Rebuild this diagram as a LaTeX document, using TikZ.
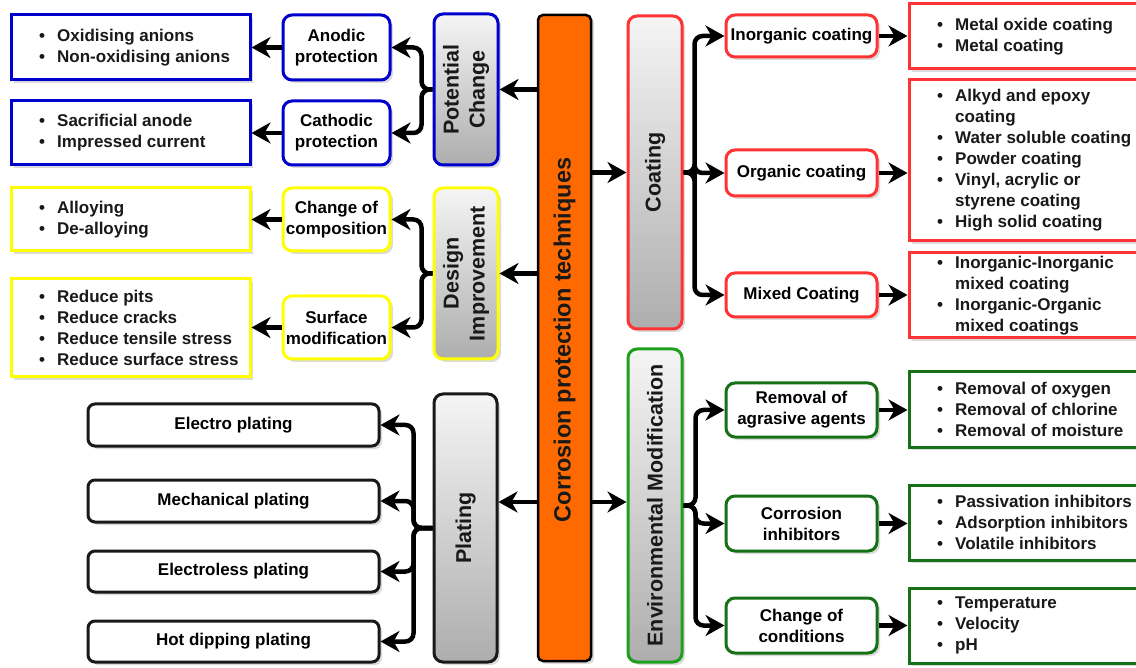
\documentclass[tikz,border=0pt]{standalone}
\usepackage{fontspec}
\setmainfont{Liberation Sans}
\usetikzlibrary{arrows.meta,shadows}

\definecolor{cpblue}{RGB}{0,0,204}
\definecolor{cpyellow}{RGB}{255,255,0}
\definecolor{cpred}{RGB}{255,51,51}
\definecolor{cpgreen}{RGB}{22,112,22}
\definecolor{cpgreenlt}{RGB}{30,160,30}
\definecolor{cporange}{RGB}{255,106,0}
\definecolor{cpink}{RGB}{25,25,25}

% text sizes
\newcommand\cpsmall{\fontsize{17pt}{21pt}\selectfont\bfseries}
\newcommand\cpcat{\fontsize{21.5pt}{26pt}\selectfont\bfseries}
\newcommand\cpmain{\fontsize{23.5pt}{28pt}\selectfont\bfseries}
% bullet list helpers
\newcommand\bul{\makebox[18pt][l]{\textbullet}}
\newcommand\indt{\hspace*{18pt}}

\tikzset{
  shd/.style={drop shadow={opacity=0.28, shadow xshift=3pt, shadow yshift=-3pt}},
  listbox/.style={draw=#1, line width=3pt, fill=white, shd, minimum width=236pt, inner sep=0pt},
  midbox/.style={draw=#1, line width=3pt, fill=white, rounded corners=9pt, shd,
    font=\cpsmall, align=center, inner sep=0pt, minimum width=107pt},
  rmidbox/.style={midbox=#1, minimum width=151pt},
  platebox/.style={draw=cpink, line width=3pt, fill=white, rounded corners=7pt, shd,
    font=\cpsmall, align=center, inner sep=0pt, minimum width=291pt},
  catbox/.style={draw=#1, line width=3pt, rounded corners=9pt,
    top color=white!96!black, bottom color=black!32, shd, inner sep=0pt},
  cattext/.style={rotate=90, font=\cpcat, align=center, text=cpink},
  listtext/.style={anchor=west, font=\cpsmall, align=left, inner sep=0pt, text=cpink},
  arr/.style={line width=4.5pt, draw=black, -{Stealth[length=19pt,width=21pt,inset=6pt]}},
  branch/.style={arr, rounded corners=8pt},
}

\begin{document}
\begin{tikzpicture}[x=1pt,y=-1pt]
\path[use as bounding box] (0,0) rectangle (1136,668);
\clip (0,0) rectangle (1136,668);
\fill[white] (0,0) rectangle (1136,668);

% ---------- central column ----------
\node[draw=black, line width=2.5pt, fill=cporange, rounded corners=5pt,
      minimum width=53pt, minimum height=646pt, shd] (orange) at (564.5,338) {};
\node[rotate=90, font=\cpmain, text=cpink] (maintxt) at (564.5,340) {Corrosion protection techniques};
\coordinate (lowtier) at (564.5,502);

% ---------- potential change ----------
\node[catbox=cpblue, minimum width=64pt, minimum height=151pt] (potential) at (466,89.5) {};
\node[cattext] (potentialtxt) at (potential.center) {Potential\\Change};
\node[midbox=cpblue, minimum height=65pt] (anodic) at (336.5,47.5) {Anodic\\protection};
\node[midbox=cpblue, minimum height=64pt] (cathodic) at (336.5,133) {Cathodic\\protection};
\node[listbox=cpblue, minimum width=239pt, minimum height=65pt] (oxid) at (130.5,47.5) {};
\node[listtext] (oxidtxt) at ([xshift=29.5pt]oxid.west) {\bul Oxidising anions\\\bul Non-oxidising anions};
\node[listbox=cpblue, minimum width=239pt, minimum height=64pt] (sacr) at (130.5,133) {};
\node[listtext] (sacrtxt) at ([xshift=29.5pt]sacr.west) {\bul Sacrificial anode\\\bul Impressed current};

% ---------- design improvement ----------
\node[catbox=cpyellow, minimum width=64pt, minimum height=171pt] (design) at (466,273.5) {};
\node[cattext] (designtxt) at (design.center) {Design\\Improvement};
\node[midbox=cpyellow, minimum height=63pt] (change) at (336.5,219.5) {Change of\\composition};
\node[midbox=cpyellow, minimum height=63pt] (surface) at (336.5,327.5) {Surface\\modification};
\node[listbox=cpyellow, minimum width=239pt, minimum height=63pt] (alloy) at (130.5,219.5) {};
\node[listtext] (alloytxt) at ([xshift=29.5pt]alloy.west) {\bul Alloying\\\bul De-alloying};
\node[listbox=cpyellow, minimum width=239pt, minimum height=98pt] (reduce) at (130.5,328) {};
\node[listtext] (reducetxt) at ([xshift=29.5pt]reduce.west)
  {\bul Reduce pits\\\bul Reduce cracks\\\bul Reduce tensile stress\\\bul Reduce surface stress};

% ---------- plating ----------
\node[catbox=cpink, minimum width=63pt, minimum height=268pt] (plating) at (465.5,528) {};
\node[cattext] (platingtxt) at (plating.center) {Plating};
\node[platebox, minimum height=42pt] (electro) at (233.5,425) {Electro plating};
\node[platebox, minimum height=42pt] (mech) at (233.5,501) {Mechanical plating};
\node[platebox, minimum height=41pt] (eless) at (233.5,571.5) {Electroless plating};
\node[platebox, minimum height=41pt] (hot) at (233.5,641.5) {Hot dipping plating};

% ---------- coating ----------
\node[catbox=cpred, minimum width=54pt, minimum height=313pt] (coating) at (655,172.5) {};
\node[cattext] (coatingtxt) at (coating.center) {Coating};
\node[rmidbox=cpred, minimum height=42pt] (inorg) at (801.5,36) {Inorganic coating};
\node[rmidbox=cpred, minimum height=46pt] (organic) at (801.5,173) {Organic coating};
\node[rmidbox=cpred, minimum height=44pt] (mixed) at (801.5,295) {Mixed Coating};
\node[listbox=cpred, minimum height=65pt] (rone) at (1027,36.5) {};
\node[listtext] (ronetxt) at ([xshift=29.5pt]rone.west) {\bul Metal oxide coating\\\bul Metal coating};
\node[listbox=cpred, minimum height=161pt] (rtwo) at (1027,160.5) {};
\node[listtext] (rtwotxt) at ([xshift=29.5pt]rtwo.west)
  {\bul Alkyd and epoxy\\\indt coating\\\bul Water soluble coating\\\bul Powder coating\\
   \bul Vinyl, acrylic or\\\indt styrene coating\\\bul High solid coating};
\node[listbox=cpred, minimum height=85pt] (rthree) at (1027,295.5) {};
\node[listtext] (rthreetxt) at ([xshift=29.5pt]rthree.west)
  {\bul Inorganic-Inorganic\\\indt mixed coating\\\bul Inorganic-Organic\\\indt mixed coatings};

% ---------- environmental modification ----------
\node[catbox=cpgreenlt, minimum width=54pt, minimum height=313pt] (env) at (655,505.5) {};
\node[cattext] (envtxt) at (env.center) {Environmental Modification};
\node[rmidbox=cpgreen, minimum height=54pt] (removal) at (801.5,410) {Removal of\\agrasive agents};
\node[rmidbox=cpgreen, minimum height=55pt] (inhib) at (801.5,523.5) {Corrosion\\inhibitors};
\node[rmidbox=cpgreen, minimum height=55pt] (cond) at (801.5,625.5) {Change of\\conditions};
\node[listbox=cpgreen, minimum height=75pt] (gone) at (1027,409.5) {};
\node[listtext] (gonetxt) at ([xshift=29.5pt]gone.west)
  {\bul Removal of oxygen\\\bul Removal of chlorine\\\bul Removal of moisture};
\node[listbox=cpgreen, minimum height=75pt] (gtwo) at (1027,522.5) {};
\node[listtext] (gtwotxt) at ([xshift=29.5pt]gtwo.west)
  {\bul Passivation inhibitors\\\bul Adsorption inhibitors\\\bul Volatile inhibitors};
\node[listbox=cpgreen, minimum height=75pt] (gthree) at (1027,625.5) {};
\node[listtext] (gthreetxt) at ([xshift=29.5pt]gthree.west)
  {\bul Temperature\\\bul Velocity\\\bul pH};

% ---------- connectors from the central column ----------
\draw[arr] (orange.west |- potential.east) -- (potential.east);
\draw[arr] (orange.west |- design.east) -- (design.east);
\draw[arr] (orange.west |- lowtier) -- (plating.east |- lowtier);
\draw[arr] (orange.east |- coating.west) -- (coating.west);
\draw[arr] (orange.east |- lowtier) -- (env.west |- lowtier);

% ---------- branching connectors ----------
\draw[branch] (potential.west) -- ++(-11,0) |- (anodic.east);
\draw[branch] (potential.west) -- ++(-11,0) |- (cathodic.east);
\draw[branch] (design.west) -- ++(-11,0) |- (change.east);
\draw[branch] (design.west) -- ++(-11,0) |- (surface.east);
\draw[branch] (plating.west) -- ++(-19,0) |- (electro.east);
\draw[branch] (plating.west) -- ++(-19,0) |- (mech.east);
\draw[branch] (plating.west) -- ++(-19,0) |- (eless.east);
\draw[branch] (plating.west) -- ++(-19,0) |- (hot.east);
\draw[branch] (coating.east) -- ++(11,0) |- (inorg.west);
\draw[branch] (coating.east) -- ++(11,0) |- (organic.west);
\draw[branch] (coating.east) -- ++(11,0) |- (mixed.west);
\draw[branch] (env.east) -- ++(12,0) |- (removal.west);
\draw[branch] (env.east) -- ++(12,0) |- (inhib.west);
\draw[branch] (env.east) -- ++(12,0) |- (cond.west);

% ---------- connectors to the detail lists ----------
\draw[arr] (anodic.west) -- (oxid.east |- anodic.west);
\draw[arr] (cathodic.west) -- (sacr.east |- cathodic.west);
\draw[arr] (change.west) -- (alloy.east |- change.west);
\draw[arr] (surface.west) -- (reduce.east |- surface.west);
\draw[arr] (inorg.east) -- (rone.west |- inorg.east);
\draw[arr] (organic.east) -- (rtwo.west |- organic.east);
\draw[arr] (mixed.east) -- (rthree.west |- mixed.east);
\draw[arr] (removal.east) -- (gone.west |- removal.east);
\draw[arr] (inhib.east) -- (gtwo.west |- inhib.east);
\draw[arr] (cond.east) -- (gthree.west |- cond.east);
\end{tikzpicture}
\end{document}
